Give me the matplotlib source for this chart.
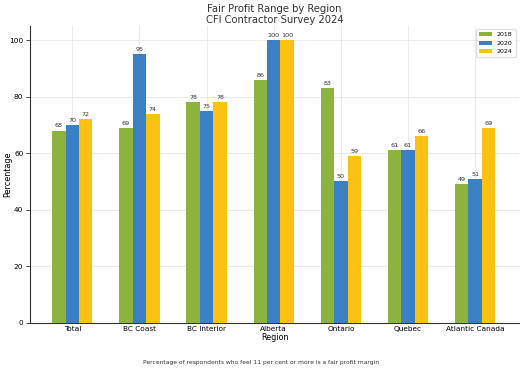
import matplotlib
matplotlib.use("Agg")
import matplotlib.pyplot as plt
import numpy as np

regions = ["Total", "BC Coast", "BC Interior", "Alberta", "Ontario", "Quebec", "Atlantic Canada"]
years = ["2018", "2020", "2024"]
v2018 = [68, 69, 78, 86, 83, 61, 49]
v2020 = [70, 95, 75, 100, 50, 61, 51]
v2024 = [72, 74, 78, 100, 59, 66, 69]
colors = ["#8db33f", "#3b80c4", "#fdc111"]

fig = plt.figure(figsize=(5.23, 3.71), dpi=100)
ax = fig.add_axes([0.058, 0.13, 0.934, 0.8])
x = np.arange(len(regions))
w = 0.2
for i, (vals, yr, c) in enumerate(zip([v2018, v2020, v2024], years, colors)):
    bars = ax.bar(x + (i - 1) * w, vals, w, label=yr, color=c, zorder=3)
    ax.bar_label(bars, labels=[str(v) for v in vals], padding=1.5, fontsize=4.6, color="#333333")

ax.set_xticks(x)
ax.set_xticklabels(regions, fontsize=5.3)
ax.tick_params(axis="y", labelsize=5.3, length=3, width=0.5, pad=2)
ax.tick_params(axis="x", length=0, pad=2)
ax.set_ylim(0, 105)
ax.set_xlim(-0.625, 6.65)
ax.set_yticks([0, 20, 40, 60, 80, 100])
ax.grid(True, color="#e6e6e6", linewidth=0.6, zorder=0)
for s in ["top", "right"]:
    ax.spines[s].set_visible(False)
for s in ["left", "bottom"]:
    ax.spines[s].set_linewidth(0.8)
    ax.spines[s].set_color("#333333")
ax.set_xlabel("Region", fontsize=5.8, labelpad=1)
ax.set_ylabel("Percentage", fontsize=5.8)
ax.yaxis.set_label_coords(-0.036, 0.5)
ax.set_title("Fair Profit Range by Region\nCFI Contractor Survey 2024", fontsize=7.2, color="#333333",
             pad=2, linespacing=1.1)
ax.legend(fontsize=4.5, loc="upper right", handlelength=2.0, handleheight=0.6, borderpad=0.5,
          framealpha=0.9, edgecolor="#dddddd", bbox_to_anchor=(1.0, 1.0))
fig.text(0.5, 0.018, "Percentage of respondents who feel 11 per cent or more is a fair profit margin", ha="center", fontsize=4.35, color="#333333")
fig.savefig("out.png", dpi=100)
